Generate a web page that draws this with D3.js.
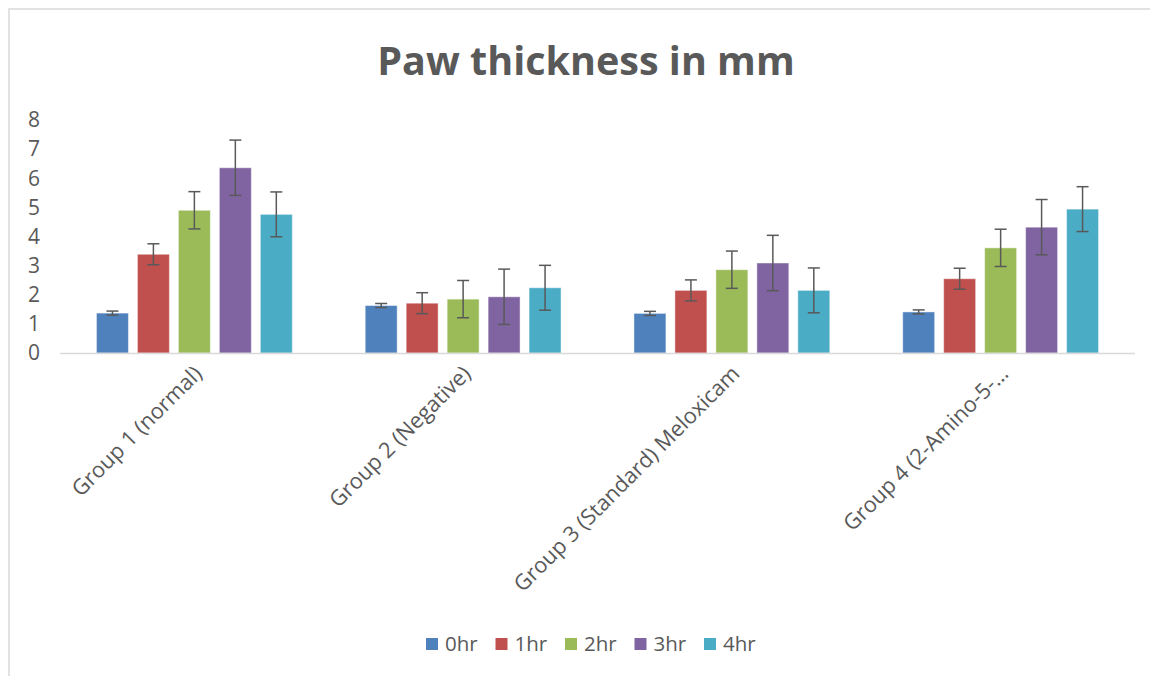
<!DOCTYPE html>
<html>
<head>
<meta charset="utf-8">
<script src="https://cdn.jsdelivr.net/npm/d3@7"></script>
<style>
  body { margin: 0; background: #fff; }
  text { font-family: "Open Sans", "Noto Sans", sans-serif; fill: #595959; }
</style>
</head>
<body>
<div id="chart"></div>
<script>
// chart data
var groups = ["Group 1 (normal)", "Group 2 (Negative)", "Group 3 (Standard) Meloxicam", "Group 4 (2-Amino-5-\u2026"];
var series = ["0hr", "1hr", "2hr", "3hr", "4hr"];
var values = [
  [1.37, 3.39, 4.90, 6.36, 4.76],
  [1.63, 1.71, 1.85, 1.93, 2.24],
  [1.36, 2.15, 2.86, 3.09, 2.15],
  [1.41, 2.55, 3.61, 4.32, 4.94]
];
var errors = [0.07, 0.36, 0.64, 0.95, 0.77];
var yTicks = [0, 1, 2, 3, 4, 5, 6, 7, 8];
var colors = ["#4F81BD", "#C0504D", "#9BBB59", "#8064A2", "#4BACC6"];

var width = 1150, height = 676;
var plotLeft = 60, plotRight = 1135, plotTop = 120, plotBottom = 353;

var svg = d3.select("#chart").append("svg")
    .attr("width", width)
    .attr("height", height);

// chart frame
svg.append("rect")
    .attr("x", 9)
    .attr("y", 9)
    .attr("width", 1150)
    .attr("height", 700)
    .attr("fill", "none")
    .attr("stroke", "#d9d9d9")
    .attr("stroke-width", 1.5);

svg.append("text")
    .attr("x", 586)
    .attr("y", 75)
    .attr("text-anchor", "middle")
    .attr("font-size", "39.5px")
    .attr("font-weight", "bold")
    .text("Paw thickness in mm");

var y = d3.scaleLinear().domain([0, 8]).range([plotBottom, plotTop]);

var x0 = d3.scaleBand().domain(groups).range([plotLeft, plotRight]).padding(0);
var x1 = d3.scaleBand().domain(series).range([0, x0.bandwidth()])
    .paddingInner(0.22).paddingOuter(0.89);

// y axis labels
svg.selectAll(".ytick")
    .data(yTicks)
    .enter()
    .append("text")
    .attr("class", "ytick")
    .attr("x", 40)
    .attr("y", function(d){ return y(d); })
    .attr("dy", "0.35em")
    .attr("text-anchor", "end")
    .attr("font-size", "21px")
    .text(function(d){ return d; });

var rows = [];
groups.forEach(function(g, gi){
    series.forEach(function(s, si){
        rows.push({group: g, series: s, si: si, value: values[gi][si], err: errors[si]});
    });
});

svg.selectAll(".bar")
    .data(rows)
    .enter()
    .append("rect")
    .attr("class", "bar")
    .attr("x", function(d){ return x0(d.group) + x1(d.series); })
    .attr("y", function(d){ return y(d.value); })
    .attr("width", x1.bandwidth())
    .attr("height", function(d){ return y(0) - y(d.value); })
    .attr("fill", function(d){ return colors[d.si]; })
    .attr("stroke", "#ffffff")
    .attr("stroke-opacity", 0.45)
    .attr("stroke-width", 1);

// baseline
svg.append("line")
    .attr("x1", plotLeft)
    .attr("x2", plotRight)
    .attr("y1", y(0) + 0.5)
    .attr("y2", y(0) + 0.5)
    .attr("stroke", "#d9d9d9")
    .attr("stroke-width", 1.5);

// error bars
var eb = svg.selectAll(".err")
    .data(rows)
    .enter()
    .append("g")
    .attr("class", "err")
    .attr("stroke", "#595959")
    .attr("stroke-width", 1.5)
    .attr("transform", function(d){
        return "translate(" + (x0(d.group) + x1(d.series) + x1.bandwidth() / 2) + ",0)";
    });

eb.append("line")
    .attr("x1", 0).attr("x2", 0)
    .attr("y1", function(d){ return y(d.value + d.err); })
    .attr("y2", function(d){ return y(d.value - d.err); });
eb.append("line")
    .attr("x1", -6).attr("x2", 6)
    .attr("y1", function(d){ return y(d.value + d.err); })
    .attr("y2", function(d){ return y(d.value + d.err); });
eb.append("line")
    .attr("x1", -6).attr("x2", 6)
    .attr("y1", function(d){ return y(d.value - d.err); })
    .attr("y2", function(d){ return y(d.value - d.err); });

// category labels
svg.selectAll(".xlab")
    .data(groups)
    .enter()
    .append("text")
    .attr("class", "xlab")
    .attr("text-anchor", "end")
    .attr("font-size", "21.7px")
    .attr("transform", function(d){
        return "translate(" + (x0(d) + x0.bandwidth() / 2 + 9) + "," + 375 + ") rotate(-45)";
    })
    .text(function(d){ return d; });

// legend
var legend = svg.selectAll(".leg")
    .data(series)
    .enter()
    .append("g")
    .attr("class", "leg")
    .attr("transform", function(d, i){ return "translate(" + (426 + i * 69.5) + ",638)"; });

legend.append("rect")
    .attr("width", 12)
    .attr("height", 12)
    .attr("fill", function(d, i){ return colors[i]; });

legend.append("text")
    .attr("x", 19)
    .attr("y", 6)
    .attr("dy", "0.36em")
    .attr("font-size", "20.5px")
    .text(function(d){ return d; });
</script>
</body>
</html>
